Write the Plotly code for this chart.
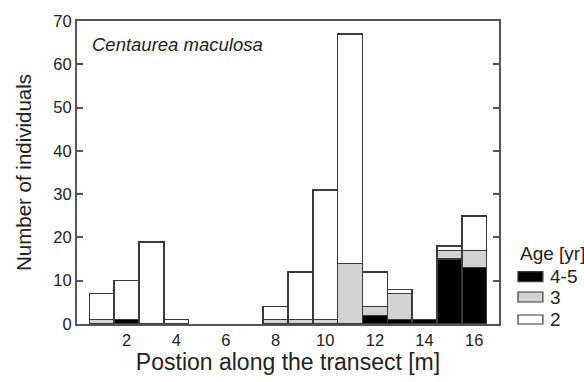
import plotly.graph_objects as go

positions = list(range(1, 17))
age_45 = [None, 1, None, None, None, None, None, None, None, None, None, 2, 1, 1, 15, 13]
age_3 = [1, None, None, None, None, None, None, 1, 1, 1, 14, 2, 6, None, 2, 4]
age_2 = [6, 9, 19, 1, None, None, None, 3, 11, 30, 53, 8, 1, None, 1, 8]

series = [("4-5", age_45, "#000000"), ("3", age_3, "#d3d3d3"), ("2", age_2, "#ffffff")]
x_ticks = [2, 4, 6, 8, 10, 12, 14, 16]
y_ticks = [0, 10, 20, 30, 40, 50, 60, 70]

font = "Liberation Sans, Arial, sans-serif"
edge = "#3a3a3a"
fig = go.Figure()
for name, vals, col in series:
    fig.add_trace(go.Bar(
        x=positions, y=vals, name=name, width=1,
        marker=dict(color=col, line=dict(color=edge, width=1.5)),
    ))

# manual legend (swatches + labels) in paper coordinates
shapes = []
annotations = [dict(
    text="<i>Centaurea maculosa</i>", x=0.03, y=0.965, xref="paper", yref="paper",
    xanchor="left", yanchor="top", showarrow=False, font=dict(size=18.5, color="#222"),
)]
annotations.append(dict(text="Age [yr]", x=1.045, y=0.234, xref="paper", yref="paper",
                        xanchor="left", yanchor="middle", showarrow=False,
                        font=dict(size=19, color="#222")))
swatch_y = [(0.1396, 0.1726), (0.0726, 0.1056), (0.0, 0.0297)]
for (name, _, col), (ya, yb) in zip(series, swatch_y):
    shapes.append(dict(type="rect", xref="paper", yref="paper", x0=1.045, x1=1.104,
                       y0=ya, y1=yb, fillcolor=col, line=dict(color=edge, width=1.2)))
    annotations.append(dict(text=name, x=1.116, y=(ya + yb) / 2, xref="paper", yref="paper",
                            xanchor="left", yanchor="middle", showarrow=False,
                            font=dict(size=19, color="#222")))

fig.update_layout(
    barmode="stack",
    width=584, height=382,
    margin=dict(l=77, r=85, t=21, b=58),
    paper_bgcolor="white", plot_bgcolor="white",
    font=dict(family=font, color="#222", size=16),
    showlegend=False,
    xaxis=dict(
        range=[0, 17], tickvals=x_ticks, ticks="", showgrid=False,
        showline=True, linecolor="#555", linewidth=2, mirror=True,
        tickfont=dict(size=16.5), zeroline=False,
        title=dict(text="Postion along the transect [m]", font=dict(size=23), standoff=6),
    ),
    yaxis=dict(
        range=[0, 70], tickvals=y_ticks, ticks="inside", ticklen=6, tickcolor="#555",
        tickwidth=1.5, showgrid=False,
        showline=True, linecolor="#555", linewidth=2, mirror="ticks",
        tickfont=dict(size=16.5), zeroline=False,
        title=dict(text="Number of individuals", font=dict(size=20.5), standoff=16),
    ),
    shapes=shapes,
    annotations=annotations,
)

fig.write_html("out.html")
